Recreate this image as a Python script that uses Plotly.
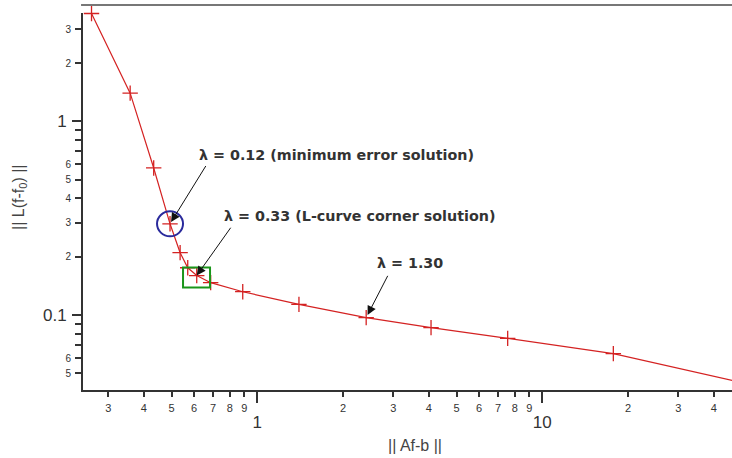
import numpy as np
import plotly.graph_objects as go

# L-curve data: residual norm ||Af-b|| vs seminorm ||L(f-f0)||
resid = [0.262, 0.358, 0.433, 0.494, 0.536, 0.570, 0.613, 0.686, 0.889, 1.40, 2.41, 4.07, 7.56, 17.75]
seminorm = [3.61, 1.40, 0.575, 0.296, 0.210, 0.1755, 0.160, 0.147, 0.132, 0.1135, 0.097, 0.0861, 0.0758, 0.0632]
# curve continues beyond the last computed marker (off the right edge)
tail_resid = [50.0]
tail_seminorm = [0.0449]

x_minor_vals = [0.3, 0.4, 0.5, 0.6, 0.7, 0.8, 0.9, 2, 3, 4, 5, 6, 7, 8, 9, 20, 30, 40]
x_minor_text = ["3", "4", "5", "6", "7", "8", "9", "2", "3", "4", "5", "6", "7", "8", "9", "2", "3", "4"]
x_major_vals = [1, 10]
x_major_text = ["1", "10"]
y_minor_vals = [3, 2, 0.9, 0.8, 0.7, 0.6, 0.5, 0.4, 0.3, 0.2, 0.09, 0.08, 0.07, 0.06, 0.05]
y_minor_text = ["3", "2", "", "", "", "6", "5", "4", "3", "2", "", "", "", "6", "5"]
y_major_vals = [1, 0.1]
y_major_text = ["1", "0.1"]

x_range = [-0.6116, 1.6656]
y_range = [-1.387, 0.560]
X_DEC = 285.0   # pixels per decade (style constant)
Y_DEC = 194.0

RED = "#d42222"
AX = "#333333"

fig = go.Figure()
fig.add_trace(go.Scatter(
    x=resid + tail_resid, y=seminorm + tail_seminorm, mode="lines",
    line=dict(color=RED, width=1.2), showlegend=False, hoverinfo="skip"))
fig.add_trace(go.Scatter(
    x=resid, y=seminorm, mode="markers", cliponaxis=False, xaxis="x2", yaxis="y2",
    marker=dict(symbol="cross-thin", size=11, line=dict(color=RED, width=1.3)),
    showlegend=False))


def px_off(v, dpx, dec):
    return v * 10 ** (dpx / dec)


# highlight shapes (data coords on log axes)
i = 3
fig.add_shape(type="circle", xref="x", yref="y",
              x0=px_off(resid[i], -13, X_DEC), x1=px_off(resid[i], 13, X_DEC),
              y0=px_off(seminorm[i], -12.5, Y_DEC), y1=px_off(seminorm[i], 12.5, Y_DEC),
              line=dict(color="#2a2a9c", width=2))
i = 6
fig.add_shape(type="rect", xref="x", yref="y",
              x0=px_off(resid[i], -13.7, X_DEC), x1=px_off(resid[i], 13.3, X_DEC),
              y0=px_off(seminorm[i], -12, Y_DEC), y1=px_off(seminorm[i], 8, Y_DEC),
              line=dict(color="#1a951a", width=2))
# top frame line
fig.add_shape(type="line", xref="paper", yref="paper", x0=-0.003, x1=1.0, y0=1.0212, y1=1.0212,
              line=dict(color="#777777", width=2))

labels = [
    (3, "λ = 0.12 (minimum error solution)", 36.7, -59.3, 2, 26.7, 69.3),
    (6, "λ = 0.33 (L-curve corner solution)", 35, -49.3, 0, 25, 60),
    (10, "λ = 1.30", 22.3, -43.3, 3, 9, 55),
]
for i, txt, ax, ay, so, xs, ys in labels:
    xl = float(np.log10(resid[i]))
    yl = float(np.log10(seminorm[i]))
    fig.add_annotation(x=xl, y=yl, xref="x", yref="y", text="", showarrow=True,
                       ax=ax, ay=ay, axref="pixel", ayref="pixel", standoff=so,
                       arrowhead=2, arrowsize=1.8, arrowwidth=1, arrowcolor="#111111")
    fig.add_annotation(x=xl, y=yl, xref="x", yref="y", text="<b>" + txt + "</b>",
                       showarrow=False, xanchor="left", yanchor="middle",
                       xshift=xs, yshift=ys,
                       font=dict(family="DejaVu Sans", size=14.3, color="#333333"))

# axis titles
fig.add_annotation(x=(415 - 83) / 649, y=-(445 - 390) / 377, xref="paper", yref="paper",
                   text="|| Af-b ||", showarrow=False, xanchor="center", yanchor="middle",
                   font=dict(family="Liberation Sans, Arial", size=16, color="#444444"))
fig.add_annotation(x=(20 - 83) / 649, y=(390 - 197) / 377, xref="paper", yref="paper",
                   text="|| L(f-f<sub>0</sub>) ||", showarrow=False, textangle=-90,
                   xanchor="center", yanchor="middle",
                   font=dict(family="Liberation Sans, Arial", size=16, color="#444444"))

common = dict(type="log", showgrid=False, zeroline=False, ticks="outside", tickcolor=AX,
              tickwidth=1.5, tickmode="array")
fig.update_layout(
    width=732, height=458,
    margin=dict(l=83, r=0, t=13, b=68),
    paper_bgcolor="white", plot_bgcolor="white",
    font=dict(family="Liberation Sans, Arial", color=AX),
    xaxis=dict(range=x_range, tickvals=x_minor_vals, ticktext=x_minor_text, ticklen=5,
               tickfont=dict(size=11, color=AX), showline=True, linecolor=AX, linewidth=2,
               ticklabelstandoff=2, **common),
    xaxis2=dict(range=x_range, overlaying="x", anchor="y", side="bottom",
                tickvals=x_major_vals, ticktext=x_major_text, ticklen=12,
                tickfont=dict(size=17, color=AX), showline=False, ticklabelstandoff=5, **common),
    yaxis=dict(range=y_range, tickvals=y_minor_vals, ticktext=y_minor_text, ticklen=6,
               tickfont=dict(size=10, color=AX), showline=True, linecolor=AX, linewidth=2,
               ticklabelstandoff=2, **common),
    yaxis2=dict(range=y_range, overlaying="y", anchor="x", side="left",
                tickvals=y_major_vals, ticktext=y_major_text, ticklen=10,
                tickfont=dict(size=17, color=AX), showline=False, ticklabelstandoff=2, **common),
)

fig.write_html("out.html", config={"displayModeBar": False},
               post_script="document.body.style.margin='0';")
